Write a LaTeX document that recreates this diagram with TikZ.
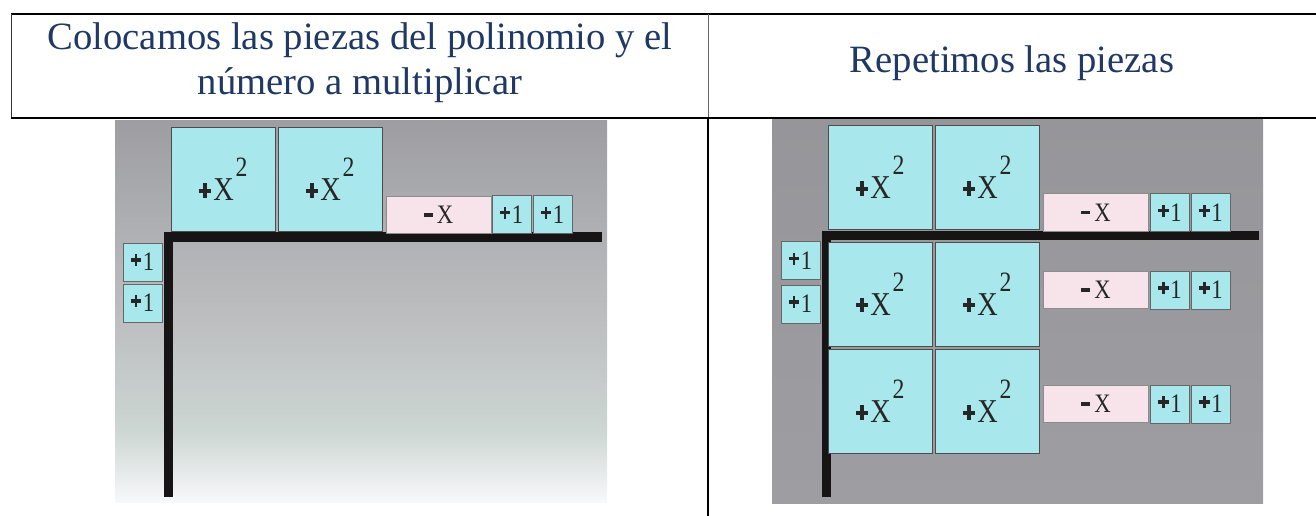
\documentclass[tikz,border=0pt]{standalone}
\usepackage{fontspec}
\newfontfamily\headfont{Liberation Serif}
\newfontfamily\tilefont{Liberation Serif}
\definecolor{headblue}{RGB}{31,56,100}
\definecolor{tilecyan}{RGB}{168,232,236}
\definecolor{tilepink}{RGB}{246,228,234}
\definecolor{barblack}{RGB}{22,20,20}
\definecolor{photogrey}{RGB}{158,158,162}
\definecolor{photomid}{RGB}{190,192,194}
\definecolor{photomint}{RGB}{204,214,210}
\definecolor{photowhite}{RGB}{248,248,250}
% heavy plus sign: width, stroke, height of its centre
\newcommand\heavyplus[3]{\hbox{\rlap{\rule[\dimexpr#3-#2/2\relax]{#1}{#2}}\kern\dimexpr#1/2-#2/2\relax\rule[\dimexpr#3-#1/2\relax]{#2}{#1}\kern\dimexpr#1/2-#2/2\relax}}
% labels written on the pieces
\newcommand\sqlabel{\scalebox{0.85}[1]{\heavyplus{11pt}{3pt}{7.6pt}\kern2pt{\fontsize{25}{25}\selectfont X}\kern1.5pt\raisebox{18pt}{\fontsize{21}{21}\selectfont 2}}}
\newcommand\linlabel{\scalebox{0.85}[1]{\rule[5.4pt]{8pt}{2.6pt}\kern3.5pt X}}
\newcommand\onelabel{\scalebox{0.85}[1]{\heavyplus{9pt}{2.6pt}{8pt}\kern1.5pt 1}}

\begin{document}
\begin{tikzpicture}
% one unit is one pixel of the reference, y grows downwards
[x=0.75pt,y=-0.75pt,
 sq/.style={fill=tilecyan,draw=black!70,line width=0.6pt,minimum width=78pt,minimum height=78pt,inner sep=0pt,font=\tilefont,text=black!85},
 lin/.style={fill=tilepink,draw=black!45,line width=0.5pt,minimum width=78.75pt,minimum height=28pt,inner sep=0pt,font=\tilefont\fontsize{20}{20}\selectfont,text=black!85},
 one/.style={fill=tilecyan,draw=black!60,line width=0.5pt,minimum width=29pt,minimum height=28.5pt,inner sep=0pt,font=\tilefont\fontsize{20}{20}\selectfont,text=black!85},
 bar/.style={fill=barblack},
 head/.style={font=\headfont\fontsize{29}{33.75}\selectfont,text=headblue,align=center}]
\useasboundingbox (0,0) rectangle (1316,516);

%The table:
\draw[line width=1.1pt] (11,14) -- (1316,14);
\draw[line width=0.7pt,black!80] (11,14) -- (11,118);
\draw[line width=0.7pt,black!60] (708,14) -- (708,118);
\draw[line width=1.5pt] (11,118) -- (1316,118);
\draw[line width=1.5pt] (708,118) -- (708,516);
\node[head] (hl) at (360,63) {Colocamos las piezas del polinomio y el\\número a multiplicar};
\node[head] (hr) at (1012,63.5) {Repetimos las piezas};

%Left photo: the polynomial and the number
\shade[top color=photogrey,bottom color=photomid] (115,121) rectangle (607,330);
\shade[top color=photomid,bottom color=photomint] (115,330) rectangle (607,430);
\shade[top color=photomint,bottom color=photowhite] (115,430) rectangle (607,502);
\fill[bar] (164,232) rectangle (602,242);
\fill[bar] (164,232) rectangle (173,497);
\node[sq] (lq1) at (223,179.5) {\sqlabel};
\node[sq] (lq2) at (330,179.5) {\sqlabel};
\node[lin] (lx) at (438.5,215) {\linlabel};
\node[one] (lo1) at (511.5,214.5) {\onelabel};
\node[one] (lo2) at (552.5,214.5) {\onelabel};
\node[one] (lm1) at (142.5,262) {\onelabel};
\node[one] (lm2) at (142.5,303) {\onelabel};

%Right photo: the pieces repeated
\shade[top color=photogrey!95!black,bottom color=photogrey] (772,120) rectangle (1263,503);
\fill[bar] (822,231) rectangle (1259,240);
\fill[bar] (822,231) rectangle (831,497);
\foreach \r/\ys/\yl in {1/177.5/212.5,2/294/290,3/401.5/404}{
 \node[sq] (q\r a) at (880,\ys) {\sqlabel};
 \node[sq] (q\r b) at (987,\ys) {\sqlabel};
 \node[lin] (x\r) at (1096,\yl) {\linlabel};
 \node[one] (o\r a) at (1170,\yl) {\onelabel};
 \node[one] (o\r b) at (1211,\yl) {\onelabel};}
\node[one] (m1) at (800.5,260.5) {\onelabel};
\node[one] (m2) at (800.5,304) {\onelabel};
\end{tikzpicture}
\end{document}
